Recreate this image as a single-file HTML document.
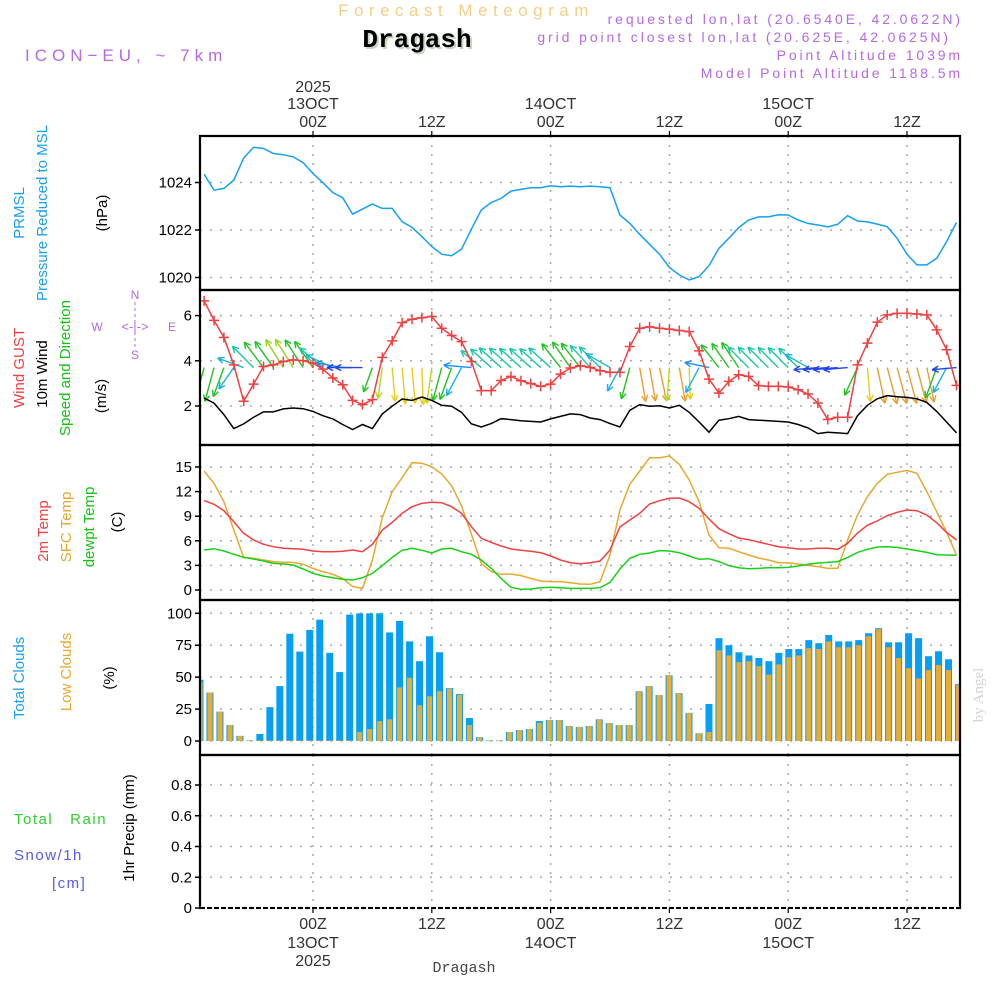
<!DOCTYPE html>
<html><head><meta charset="utf-8"><title>Forecast Meteogram Dragash</title>
<style>
html,body{margin:0;padding:0;background:#fff;}
svg{display:block;font-family:"Liberation Sans",sans-serif;}
</style></head>
<body>
<svg id="chart" width="1000" height="1000" viewBox="0 0 1000 1000" xmlns="http://www.w3.org/2000/svg">
<defs>
<clipPath id="cp1"><rect x="200" y="136" width="760" height="154"/></clipPath>
<clipPath id="cp2"><rect x="200" y="290" width="760" height="155"/></clipPath>
<clipPath id="cp3"><rect x="200" y="445" width="760" height="155"/></clipPath>
<clipPath id="cp4"><rect x="200" y="600" width="760" height="155"/></clipPath>
</defs>
<!-- header -->
<text x="466" y="16" text-anchor="middle" font-size="17" fill="#f5cf86" letter-spacing="5.5">Forecast Meteogram</text>
<text x="419" y="49" text-anchor="middle" font-family="Liberation Mono, monospace" font-weight="bold" font-size="26" fill="#c8d4c4">Dragash</text>
<text x="417" y="47" text-anchor="middle" font-family="Liberation Mono, monospace" font-weight="bold" font-size="26" fill="#000">Dragash</text>
<text x="25" y="61" font-size="17" fill="#b469e8" letter-spacing="5">ICON−EU, ~ 7km</text>
<text x="963" y="24" text-anchor="end" font-size="14" fill="#b469e8" letter-spacing="2.9">requested lon,lat (20.6540E, 42.0622N)</text>
<text x="951" y="42" text-anchor="end" font-size="14" fill="#b469e8" letter-spacing="2.9">grid point closest lon,lat (20.625E, 42.0625N)</text>
<text x="963" y="60" text-anchor="end" font-size="14" fill="#b469e8" letter-spacing="2.9">Point Altitude 1039m</text>
<text x="963" y="78" text-anchor="end" font-size="14" fill="#b469e8" letter-spacing="2.9">Model Point Altitude 1188.5m</text>

<!-- left labels -->
<g font-size="15">
<text transform="translate(24,213) rotate(-90)" text-anchor="middle" fill="#1aa0f0">PRMSL</text>
<text transform="translate(47,213) rotate(-90)" text-anchor="middle" fill="#1aa0f0">Pressure Reduced to MSL</text>
<text transform="translate(107,213) rotate(-90)" text-anchor="middle" fill="#000">(hPa)</text>
<text transform="translate(24,368) rotate(-90)" text-anchor="middle" fill="#f04040">Wind GUST</text>
<text transform="translate(47,374) rotate(-90)" text-anchor="middle" fill="#000">10m Wind</text>
<text transform="translate(70,368) rotate(-90)" text-anchor="middle" fill="#18c018">Speed and Direction</text>
<text transform="translate(106,396) rotate(-90)" text-anchor="middle" fill="#000">(m/s)</text>
<text transform="translate(48,531) rotate(-90)" text-anchor="middle" fill="#f04040">2m Temp</text>
<text transform="translate(71,527) rotate(-90)" text-anchor="middle" fill="#e8a830">SFC Temp</text>
<text transform="translate(94,527) rotate(-90)" text-anchor="middle" fill="#18c018">dewpt Temp</text>
<text transform="translate(122,522) rotate(-90)" text-anchor="middle" fill="#000">(C)</text>
<text transform="translate(24,678) rotate(-90)" text-anchor="middle" fill="#1aa0f0">Total Clouds</text>
<text transform="translate(71,672) rotate(-90)" text-anchor="middle" fill="#e8a830">Low Clouds</text>
<text transform="translate(114,678) rotate(-90)" text-anchor="middle" fill="#000">(%)</text>
<text transform="translate(134,828) rotate(-90)" text-anchor="middle" fill="#000">1hr Precip (mm)</text>
</g>
<text x="14" y="824" font-size="15" fill="#30d030" letter-spacing="1.5" xml:space="preserve">Total   Rain</text>
<text x="14" y="860" font-size="15" fill="#5858f0" letter-spacing="1.5">Snow/1h</text>
<text x="52" y="888" font-size="15" fill="#5858f0" letter-spacing="1.5">[cm]</text>
<g fill="#b469e8" font-size="12">
<text x="135" y="299" text-anchor="middle">N</text>
<text x="135" y="359" text-anchor="middle">S</text>
<text x="97" y="331" text-anchor="middle">W</text>
<text x="172" y="331" text-anchor="middle">E</text>
<text x="135" y="331" text-anchor="middle" font-size="13">&lt;-|-&gt;</text>
<line x1="135" y1="302" x2="135" y2="322" stroke="#b469e8" stroke-dasharray="3,3"/>
<line x1="135" y1="332" x2="135" y2="348" stroke="#b469e8" stroke-dasharray="3,3"/>
</g>
<text transform="translate(983,695) rotate(-90)" text-anchor="middle" font-family="Liberation Serif, serif" font-size="15" fill="#d4d4d4">by Angel</text>
<text x="464" y="972" text-anchor="middle" font-family="Liberation Mono, monospace" font-size="15" fill="#444">Dragash</text>

<g id="plots"></g>
</svg>
<script>
// ---- data (hourly, from 13Z 12 Oct = hour -11 to 17Z 15 Oct = hour 65) ----
const startHour = -11;
const pressure = [1024.35,1023.68,1023.75,1024.1,1025.03,1025.48,1025.43,1025.22,1025.17,1025.08,1024.84,1024.38,1023.99,1023.58,1023.36,1022.67,1022.88,1023.09,1022.91,1022.91,1022.35,1022.11,1021.72,1021.3,1020.98,1020.92,1021.19,1022.04,1022.84,1023.16,1023.33,1023.64,1023.71,1023.78,1023.78,1023.86,1023.82,1023.85,1023.82,
1023.85,1023.82,1023.78,1022.63,1022.28,1021.82,1021.4,1020.98,1020.42,1020.11,1019.9,1020.04,1020.5,1021.23,1021.65,1022.1,1022.42,1022.55,1022.55,1022.64,1022.63,1022.42,1022.28,1022.21,1022.13,1022.24,1022.6,1022.38,1022.34,1022.25,1022.14,1021.65,1020.98,1020.53,1020.53,1020.81,1021.51,1022.32];
const windGust = [6.65,5.79,5.03,3.82,2.21,2.97,3.75,3.82,3.97,4.04,4.0,3.9,3.63,3.24,2.94,2.25,2.06,2.28,4.15,4.88,5.69,5.84,5.91,5.96,5.44,5.12,4.85,3.97,2.68,2.68,3.13,3.31,3.12,2.99,2.87,2.97,3.41,3.68,3.78,
3.71,3.56,3.49,3.49,4.63,5.44,5.5,5.44,5.4,5.34,5.29,4.44,3.19,2.57,3.09,3.38,3.31,2.9,2.87,2.87,2.84,2.72,2.53,2.13,1.4,1.5,1.5,3.82,4.78,5.71,6.03,6.1,6.1,6.07,6.03,5.37,4.49,2.91];
const windSpeed = [2.35,2.13,1.62,1.0,1.21,1.5,1.74,1.74,1.87,1.91,1.88,1.76,1.57,1.43,1.18,0.96,1.18,1.0,1.65,1.99,2.31,2.25,2.4,2.25,2.03,1.99,1.72,1.21,1.07,1.22,1.44,1.4,1.35,1.32,1.29,1.43,1.54,1.65,1.62,
1.47,1.4,1.22,1.07,1.81,2.06,1.99,2.01,1.91,2.03,1.72,1.29,0.84,1.37,1.44,1.54,1.4,1.37,1.35,1.32,1.29,1.18,1.03,0.78,0.84,0.81,0.78,1.57,2.03,2.32,2.46,2.41,2.38,2.32,2.16,1.76,1.29,0.81];
const windDir = [255,255,250,235,160,135,127,125,122,122,123,125,140,155,170,180,180,250,262,275,275,275,272,262,255,250,242,175,140,138,138,138,138,138,138,138,128,125,128,
132,135,150,242,255,280,280,282,266,280,272,242,168,128,125,124,135,135,135,135,135,135,150,185,185,185,185,245,275,282,285,285,285,285,282,250,242,185];
const temp2m = [10.9,10.45,9.67,8.33,6.91,6.1,5.57,5.28,5.08,5.04,4.96,4.76,4.67,4.67,4.72,4.88,4.67,5.57,7.32,8.25,9.35,10.16,10.57,10.69,10.65,10.16,9.35,7.72,6.3,5.81,5.37,5.0,4.84,4.72,4.55,4.15,3.66,3.33,3.21,
3.33,3.54,4.88,7.68,8.54,9.35,10.49,10.89,11.18,11.22,10.77,9.96,8.66,7.48,6.87,6.34,6.14,5.85,5.57,5.28,5.16,5.0,5.0,5.08,5.08,4.96,5.69,6.95,7.89,8.41,9.07,9.47,9.76,9.67,9.15,8.21,7.03,6.1];
const tempSfc = [14.51,13.0,10.77,7.32,3.98,3.86,3.66,3.46,3.37,3.37,3.13,2.64,2.24,1.91,1.42,0.41,0.2,3.66,8.82,11.99,13.7,15.53,15.45,15.04,14.15,12.72,10.28,6.79,3.25,2.24,1.91,1.95,1.75,1.42,1.1,1.02,1.02,0.89,0.73,
0.69,1.02,4.27,9.76,12.89,14.51,16.14,16.14,16.34,15.33,13.41,10.77,6.71,5.16,5.08,4.67,4.27,3.9,3.66,3.33,3.33,3.17,3.0,2.85,2.64,2.64,6.1,9.15,11.38,13.0,14.1,14.35,14.59,14.23,12.0,9.55,7.03,4.27];
const tempDew = [4.88,5.04,4.76,4.35,3.98,3.78,3.54,3.25,3.17,3.05,2.56,2.03,1.71,1.5,1.3,1.22,1.5,2.03,2.97,3.98,4.84,5.08,4.84,4.51,5.0,5.08,4.67,4.35,3.66,2.64,1.42,0.33,0.08,0.12,0.28,0.33,0.28,0.2,0.2,
0.2,0.28,0.93,2.56,3.86,4.35,4.51,4.8,4.76,4.55,4.15,3.74,3.82,3.46,2.97,2.72,2.6,2.64,2.72,2.72,2.76,2.93,3.13,3.29,3.37,3.46,3.98,4.59,4.96,5.24,5.28,5.2,5.0,4.8,4.59,4.31,4.27,4.23];
const cloudTotal = [48,38,23,12.5,4,0.5,5.5,26.5,43,84,70,87,95,69,54,99,100,100,100,85,94,78,62.5,82,69.5,41.4,36.7,18,3,0.5,0.5,7,8.6,9.4,15.6,16.4,16.4,11.7,11,11.7,17,14,12.5,12.5,39,43,36,51.5,37.5,22,6,29,80.5,75,69.5,67,65,62.5,69,72,72,79,76.6,83,78,78,79,84.4,88.3,77.3,77.3,84.4,80.5,66.4,70.3,64,44.5];
const cloudLow = [46,38,23,12.5,4,0.5,0.5,0.5,0.5,0.5,0.5,0.5,0.5,0.5,0.5,0.5,7,9.4,15.6,17,42,49.5,28,35,39,41,36,12.5,3,0.5,0.5,7,8.6,9.4,14.3,16.4,16.4,11.7,11,11.7,17,14,12.5,12.5,39,43,36,51.5,37.5,22,6,7,71,67,61.7,62.5,58.6,52,60,65.6,67,72.7,72,78,73.4,73.4,75,82,87.5,73.4,65,57,49,55.5,59.4,55.5,43.8];
const precip = new Array(77).fill(0);
const pressureTicks = [1020,1022,1024];
const windTicks = [2,4,6];
const tempTicks = [0,3,6,9,12,15];
const cloudTicks = [0,25,50,75,100];
const precipTicks = [0,0.2,0.4,0.6,0.8];
const timeTickHours = [0,12,24,36,48,60];
const timeTickLabels = ["00Z","12Z","00Z","12Z","00Z","12Z"];
const dateLabels = ["13OCT","","14OCT","","15OCT",""];

// ---- axes ----
const X0 = 200, X1 = 960;
function xOf(h){ return 313 + h*9.9; }
function xBar(i){ return 200 + i*9.98; }
function yP(p){ return 277.5 - (p-1020)*23.75; }
function yW(v){ return 406 - (v-2)*22.6; }
function yT(t){ return 590 - t*8.2; }
function yC(c){ return 741 - c*1.277; }
function yR(r){ return 908 - r*153.75; }

const NS = "http://www.w3.org/2000/svg";
const root = document.getElementById('plots');
function mk(tag, attrs, parent){
  const e = document.createElementNS(NS, tag);
  for (const k in attrs) e.setAttribute(k, attrs[k]);
  (parent||root).appendChild(e);
  return e;
}
const panels = [
  {top:136,bot:290,clip:'cp1',ticks:pressureTicks,y:yP,fmt:v=>String(v),name:'pressure'},
  {top:290,bot:445,clip:'cp2',ticks:windTicks,y:yW,fmt:v=>String(v),name:'wind'},
  {top:445,bot:600,clip:'cp3',ticks:tempTicks,y:yT,fmt:v=>String(v),name:'temp'},
  {top:600,bot:755,clip:'cp4',ticks:cloudTicks,y:yC,fmt:v=>String(v),name:'clouds'},
  {top:755,bot:908,clip:null,ticks:precipTicks,y:yR,fmt:v=>v===0?"0":v.toFixed(1),name:'precip'}
];
panels.forEach(p=>{
  const g = mk('g',{});
  
  
  timeTickHours.forEach(h=>{
    const l = mk('line',{x1:xOf(h),x2:xOf(h),y1:p.top,y2:p.bot,stroke:'#aaa','stroke-width':1.5,'stroke-dasharray':'2,7'},g);
    
    
  });
  p.ticks.forEach(v=>{
    const y = p.y(v);
    const l = mk('line',{x1:X0,x2:X1,y1:y,y2:y,stroke:'#aaa','stroke-width':1.5,'stroke-dasharray':'2,8'},g);
    
    
    mk('line',{x1:195,x2:200,y1:y,y2:y,stroke:'#000','stroke-width':1.5},g);
    const t = mk('text',{x:192,y:y+5,'text-anchor':'end','font-size':15,fill:'#000'},g);
    t.textContent = p.fmt(v);
    
    
  });
});

function line(arr, yf, color, clip, name, w){
  const pts = arr.map((v,i)=>xOf(startHour+i).toFixed(1)+','+yf(v).toFixed(1)).join(' ');
  const pl = mk('polyline',{points:pts,fill:'none',stroke:color,'stroke-width':w||1.5,'clip-path':'url(#'+clip+')'});
  
  
}
// pressure
line(pressure, yP, '#16a0f5', 'cp1', 'pressure-line');
// wind arrows
function dirColor(a){
  if (a < 200){
    if (a <= 122) return '#9ad21e';
    if (a <= 130) return '#22c422';
    if (a <= 145) return '#18c8a8';
    if (a <= 165) return '#18b8d8';
    if (a <= 178) return '#1a90f0';
    return '#2244ee';
  }
  if (a <= 243) return '#18b0e8';
  if (a <= 256) return '#22c422';
  if (a <= 268) return '#b8d820';
  if (a <= 276) return '#e8cc20';
  return '#e8a030';
}
const arrowG = mk('g',{'clip-path':'url(#cp2)'});


windDir.forEach((a,i)=>{
  const x0 = xOf(startHour+i), y0 = yW(3.7);
  const L = 18 + 8*windSpeed[i];
  const r = a*Math.PI/180;
  const x1 = x0 + L*Math.cos(r), y1 = y0 - L*Math.sin(r);
  const c = dirColor(a);
  const g = mk('g',{stroke:c,'stroke-width':1.4,fill:'none'},arrowG);
  
  
  mk('line',{x1:x0,y1:y0,x2:x1,y2:y1},g);
  [r+Math.PI-0.45, r+Math.PI+0.45].forEach(b=>{
    mk('line',{x1:x1,y1:y1,x2:x1+7*Math.cos(b),y2:y1-7*Math.sin(b)},g);
  });
});
line(windSpeed, yW, '#000', 'cp2', 'wind-speed-line');
line(windGust, yW, '#f04040', 'cp2', 'wind-gust-line');
windGust.forEach((v,i)=>{
  const x = xOf(startHour+i), y = yW(v);
  const p = mk('path',{d:`M${x-5},${y}H${x+5}M${x},${y-5}V${y+5}`,stroke:'#f04040','stroke-width':1.5,'clip-path':'url(#cp2)'});
  
  
});
// temperature
line(tempSfc, yT, '#e8a830', 'cp3', 'sfc-temp-line');
line(temp2m, yT, '#f04040', 'cp3', 'temp-2m-line');
line(tempDew, yT, '#18d018', 'cp3', 'dewpt-temp-line');
// clouds
cloudTotal.forEach((v,i)=>{
  const x = xBar(i);
  const b = mk('rect',{x:x-3.5,y:yC(v),width:7,height:yC(0)-yC(v),fill:'#069ff5','clip-path':'url(#cp4)'});
  
  
  const l = mk('rect',{x:x-2.5,y:yC(cloudLow[i]),width:5,height:yC(0)-yC(cloudLow[i]),fill:'#e8ac30','clip-path':'url(#cp4)'});
  
  
});
// precip
precip.forEach((v,i)=>{
  if (v>0){
    const b = mk('rect',{x:xBar(i)-3.5,y:yR(v),width:7,height:yR(0)-yR(v),fill:'#30d030'});
    
    
  }
});
// panel borders
panels.forEach(p=>{
  const r = mk('rect',{x:X0,y:p.top,width:X1-X0,height:p.bot-p.top,fill:'none',stroke:'#000','stroke-width':2.2});
  
  
});
mk('line',{x1:X0,x2:X1,y1:908,y2:908,stroke:'#fff','stroke-width':2.4});
const dl = mk('line',{x1:X0,x2:X1,y1:908,y2:908,stroke:'#000','stroke-width':2,'stroke-dasharray':'5,2'});


// time axes
timeTickHours.forEach((h,k)=>{
  const x = xOf(h);
  mk('line',{x1:x,x2:x,y1:131,y2:136,stroke:'#000','stroke-width':1.2});
  mk('line',{x1:x,x2:x,y1:908,y2:913,stroke:'#000','stroke-width':1.2});
  const t = mk('text',{x:x,y:127,'text-anchor':'middle','font-size':16,fill:'#333'});
  t.textContent = timeTickLabels[k];
  
  
  const b = mk('text',{x:x,y:929,'text-anchor':'middle','font-size':16,fill:'#333'});
  b.textContent = timeTickLabels[k];
  
  
  if (dateLabels[k]){
    const d = mk('text',{x:x,y:109,'text-anchor':'middle','font-size':16,fill:'#333'});
    d.textContent = dateLabels[k];
    
    
    const e = mk('text',{x:x,y:948,'text-anchor':'middle','font-size':16,fill:'#333'});
    e.textContent = dateLabels[k];
    
    
  }
});
const y1 = mk('text',{x:xOf(0),y:92,'text-anchor':'middle','font-size':16,fill:'#333'});
y1.textContent = '2025';


const y2 = mk('text',{x:xOf(0),y:966,'text-anchor':'middle','font-size':16,fill:'#333'});
y2.textContent = '2025';


</script>
</body></html>
